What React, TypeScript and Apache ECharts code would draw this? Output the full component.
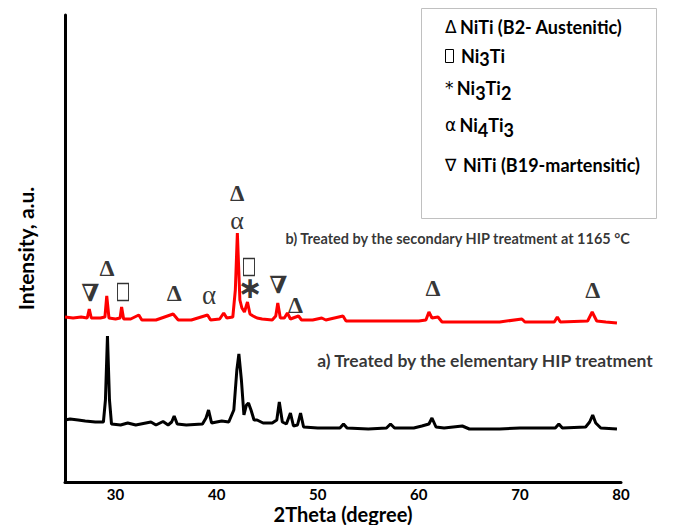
import React, { useEffect, useRef } from "react";
import * as echarts from "echarts";

// 2Theta (deg) and intensity (a.u.)
const redTheta = [25.0, 25.8, 26.6, 27.2, 27.4, 27.6, 28.5, 28.95, 29.13, 29.35, 30.0, 30.45, 30.6, 30.8, 31.5, 32.3, 32.6, 34.0, 35.7, 36.2, 37.5, 39.1, 39.4, 40.3, 40.7, 41.0, 41.6, 41.85, 42.05, 42.3, 42.5, 42.75, 43.05, 43.3, 43.6, 44.0, 44.5, 45.5, 45.85, 46.05, 46.3, 46.7, 47.0, 47.3, 48.1, 48.4, 49.5, 50.4, 50.8, 52.5, 52.8, 55.0, 58.0, 60.0, 60.7, 61.0, 61.3, 61.9, 62.3, 65.0, 68.0, 70.2, 70.5, 73.4, 73.7, 74.0, 76.7, 77.15, 77.6, 78.5, 79.6];
const redIntensity = [176, 175, 176, 175, 184, 175, 175, 176, 197, 175, 174, 175, 186, 174, 174, 178, 173, 173, 179, 173, 173, 178, 173, 174, 180, 175, 176, 203, 260, 193, 185, 181, 191, 179, 177, 175, 174, 173, 177, 190, 175, 175, 180, 174, 177, 173, 173, 175, 173, 177, 172, 172, 172, 172, 173, 181, 175, 176, 171, 171, 171, 174, 171, 171, 176, 171, 172, 181, 172, 171, 170];

const blackTheta = [25.0, 25.5, 26.3, 27.0, 28.0, 28.8, 29.0, 29.2, 29.4, 29.6, 30.5, 31.2, 32.0, 33.5, 34.0, 34.7, 35.2, 35.55, 35.8, 36.1, 37.0, 38.6, 38.95, 39.2, 39.5, 40.5, 41.2, 41.7, 42.0, 42.2, 42.45, 42.7, 42.95, 43.15, 43.4, 43.7, 44.0, 44.6, 45.5, 45.95, 46.2, 46.5, 46.9, 47.3, 47.6, 48.0, 48.3, 48.6, 50.0, 52.2, 52.55, 52.9, 55.0, 56.8, 57.2, 57.6, 59.5, 60.3, 61.0, 61.3, 61.7, 62.5, 64.3, 65.0, 68.0, 70.0, 73.5, 73.85, 74.2, 76.5, 76.9, 77.2, 77.5, 78.0, 79.6];
const blackIntensity = [73, 74, 73, 72, 71, 71, 93, 157, 93, 69, 68, 70, 68, 71, 68, 71.5, 68, 71, 77, 69, 68, 69, 75, 83, 70, 72, 71, 83, 123, 139, 113, 78, 88, 90, 83, 73, 73, 70, 70, 73, 91, 71, 69, 80, 67, 68, 80, 66, 65, 65, 69, 65, 64, 65, 69, 65, 65, 67, 69, 75, 66, 65, 67, 64, 64, 65, 65, 69, 65, 66, 71, 78, 70, 65, 64];

// peak markers: glyph(s), 2Theta, height ("Δα" = Δ stacked over α)
const markGlyphs = ["∇", "Δ", "Δ", "α", "Δα", "∗", "∇", "Δ", "Δ", "Δ"];
const markTheta = [27.5, 29.16, 35.8, 39.26, 42.03, 43.3, 46.1, 47.8, 61.4, 77.2];
const markHeight = [200, 225, 200, 198, 286, 206, 208, 188, 205, 203];

// Ni3Ti box markers
const boxTheta = [30.74, 43.2];
const boxHeight = [201, 226];

const captionTexts = ["b) Treated by the secondary HIP treatment at 1165 °C", "a) Treated by the elementary HIP treatment"];
const captionTheta = [46.8, 49.95];
const captionHeight = [255, 133];

const xTickLabels = [30, 40, 50, 60, 70, 80];

const FONT = "Lato, 'Noto Sans', sans-serif";
const SERIF = "'Liberation Serif', 'DejaVu Serif', serif";

export default function App() {
  const ref = useRef<HTMLDivElement>(null);
  useEffect(() => {
    if (!ref.current) return;
    const chart = echarts.init(ref.current, null, { renderer: "svg" });
    const red = redTheta.map((t, i) => [t, redIntensity[i]]);
    const black = blackTheta.map((t, i) => [t, blackIntensity[i]]);
    const glyphText = (g: string) =>
      g === "Δα" ? "{d2|Δ}\n{a2|α}" : g === "α" ? "{a|α}" : g === "∗" ? "{s|∗}" : "{d|" + g + "}";
    const marks = markTheta.map((t, i) => ({ value: [t, markHeight[i], markGlyphs[i]] }));
    const boxes = boxTheta.map((t, i) => [t, boxHeight[i]]);
    const captionSizes = [14.5, 17.5];
    const captions = captionTheta.map((t, i) => ({
      value: [t, captionHeight[i], captionTexts[i]],
      label: { fontSize: captionSizes[i] },
    }));

    const legendRich = {
      sym: { fontSize: 17, fontFamily: "'DejaVu Sans', sans-serif", color: "#000", lineHeight: 26 },
      b: { fontSize: 18, fontWeight: "bold", fontFamily: FONT, color: "#000", lineHeight: 26 },
      sub: { fontSize: 18, fontWeight: "bold", fontFamily: FONT, color: "#000", lineHeight: 26, padding: [9, 0, 0, 0] },
      sub2: { fontSize: 18, fontWeight: "bold", fontFamily: FONT, color: "#000", lineHeight: 26, padding: [5, 0, 0, 0] },
    };

    chart.setOption({
      animation: false,
      backgroundColor: "#fff",
      grid: { left: 65, right: 72, top: 15, bottom: 43, outerBoundsMode: "none" },
      xAxis: {
        type: "value",
        min: 25,
        max: 80,
        axisLine: { show: true, lineStyle: { color: "#000", width: 3 } },
        axisTick: { show: false },
        splitLine: { show: false },
        axisLabel: {
          customValues: xTickLabels,
          color: "#000",
          fontSize: 15,
          fontWeight: "bold",
          fontFamily: FONT,
          margin: 4,
        },
        name: "2Theta (degree)",
        nameLocation: "middle",
        nameGap: 22,
        nameMoveOverlap: false,
        nameTextStyle: { color: "#000", fontSize: 20, fontWeight: "bold", fontFamily: FONT },
      },
      yAxis: {
        type: "value",
        min: 11,
        max: 478,
        axisLine: { show: true, lineStyle: { color: "#000", width: 3 } },
        axisTick: { show: false },
        axisLabel: { show: false },
        splitLine: { show: false },
        name: "Intensity, a.u.",
        nameLocation: "middle",
        nameGap: 29,
        nameMoveOverlap: false,
        nameTextStyle: { color: "#000", fontSize: 21, fontWeight: "bold", fontFamily: FONT },
      },
      series: [
        {
          type: "line",
          data: black,
          symbol: "none",
          lineStyle: { color: "#000", width: 3 },
          z: 2,
        },
        {
          type: "line",
          data: red,
          symbol: "none",
          lineStyle: { color: "#ff0000", width: 3 },
          z: 3,
        },
        {
          type: "scatter",
          data: marks,
          symbolSize: 0,
          label: {
            show: true,
            position: "inside",
            formatter: (p: any) => glyphText(p.value[2]),
            color: "#000",
            rich: {
              d: { fontSize: 24, lineHeight: 19, fontWeight: "bold", fontFamily: SERIF, color: "#000" },
              a: { fontSize: 27, lineHeight: 19, fontFamily: SERIF, color: "#000" },
              d2: { fontSize: 23, lineHeight: 27, fontWeight: "bold", fontFamily: SERIF, color: "#000" },
              a2: { fontSize: 26, lineHeight: 27, fontFamily: SERIF, color: "#000" },
              s: { fontSize: 30, lineHeight: 19, fontWeight: "bold", fontFamily: "'DejaVu Sans', sans-serif", color: "#000" },
            },
          },
          z: 5,
        },
        {
          type: "scatter",
          data: boxes,
          symbol: "rect",
          symbolSize: [11, 17],
          itemStyle: { color: "rgba(0,0,0,0)", borderColor: "#000", borderWidth: 1.2 },
          z: 5,
        },
        {
          type: "scatter",
          data: captions,
          symbolSize: 0,
          label: {
            show: true,
            position: "inside",
            align: "left",
            verticalAlign: "middle",
            formatter: (p: any) => p.value[2],
            color: "#000",
            fontWeight: "bold",
            fontFamily: FONT,
          },
          z: 5,
        },
      ],
      graphic: [
        {
          type: "rect",
          shape: { x: 421.5, y: 8.5, width: 235, height: 210 },
          style: { fill: "#fff", stroke: "#c0c0c0", lineWidth: 1 },
          z: 10,
        },
        {
          type: "text",
          x: 445,
          y: 27,
          style: { text: "{sym|Δ} {b|NiTi (B2- Austenitic)}", rich: legendRich, verticalAlign: "middle" },
          z: 11,
        },
        {
          type: "rect",
          shape: { x: 445.5, y: 49.5, width: 8, height: 13 },
          style: { fill: "none", stroke: "#000", lineWidth: 1 },
          z: 11,
        },
        {
          type: "text",
          x: 461,
          y: 56,
          style: { text: "{b|Ni}{sub2|3}{b|Ti}", rich: legendRich, verticalAlign: "middle" },
          z: 11,
        },
        {
          type: "text",
          x: 445,
          y: 88,
          style: { text: "{sym|*} {b|Ni}{sub|3}{b|Ti}{sub|2}", rich: legendRich, verticalAlign: "middle" },
          z: 11,
        },
        {
          type: "text",
          x: 445,
          y: 125,
          style: { text: "{sym|α} {b|Ni}{sub|4}{b|Ti}{sub|3}", rich: legendRich, verticalAlign: "middle" },
          z: 11,
        },
        {
          type: "text",
          x: 445,
          y: 165,
          style: { text: "{sym|∇}  {b|NiTi (B19-martensitic)}", rich: legendRich, verticalAlign: "middle" },
          z: 11,
        },
      ],
    });
    return () => chart.dispose();
  }, []);
  return (
    <div
      ref={ref}
      style={{ position: "fixed", left: 0, top: 0, width: 693, height: 525, background: "#fff" }}
    />
  );
}
